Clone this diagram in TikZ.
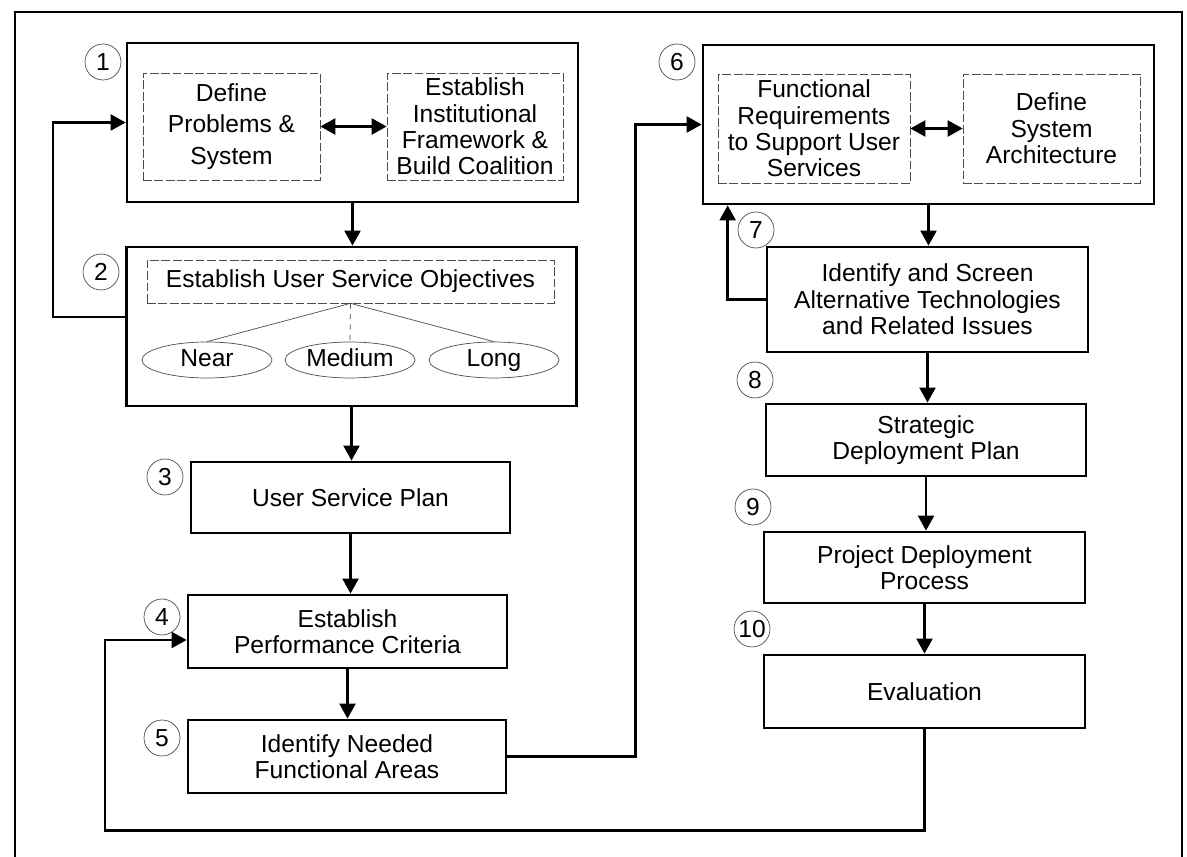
\documentclass[tikz,border=0pt]{standalone}
\usepackage{fontspec}
\setmainfont{Liberation Sans}
\usetikzlibrary{arrows.meta,shapes.geometric}
\tikzset{
  stage/.style={draw, line width=1.6pt, align=center, inner sep=2pt},
  part/.style={draw=black!70, line width=0.4pt, dash pattern=on 5pt off 1.5pt, align=center, inner sep=1pt},
  term/.style={ellipse, draw=black!70, line width=0.4pt, minimum width=2.6cm, minimum height=0.72cm, inner sep=0pt, text height=1.6ex, text depth=0.3ex},
  num/.style={circle, draw=black!70, line width=0.4pt, minimum size=0.72cm, inner sep=0pt, font=\fontsize{14}{14}\selectfont},
  flow/.style={line width=1.3pt, -{Triangle[length=3mm,width=3.2mm]}},
  both/.style={line width=1.3pt, {Triangle[length=3mm,width=3.2mm]}-{Triangle[length=3mm,width=3.2mm]}},
}
\begin{document}
\begin{tikzpicture}[x=0.02cm, y=-0.02cm, font=\fontsize{14}{15}\selectfont]
\useasboundingbox (0,0) rectangle (1187,857);
\draw[line width=0.9pt] (15,857) -- (15,12) -- (1182,12) -- (1182,857);
% left column
\node[stage, minimum width=9.02cm, minimum height=3.18cm] (box1) at (352.5,122.5) {};
\node[part, minimum width=3.54cm, minimum height=2.14cm] (b1l) at (231.5,126.5) {Define\\[3pt]Problems \&\\[3pt]System};
\node[part, minimum width=3.52cm, minimum height=2.14cm] (b1r) at (475,126.5) {Establish\\Institutional\\Framework \&\\Build Coalition};
\node[stage, minimum width=9.0cm, minimum height=3.18cm] (box2) at (351.5,326.5) {};
\node[part, minimum width=8.14cm, minimum height=0.86cm] (obj) at (350.5,281.5) {Establish User Service Objectives};
\node[term] (near) at (207,360) {Near};
\node[term] (medium) at (350,360) {Medium};
\node[term] (long) at (494,360) {Long};
\node[stage, minimum width=6.38cm, minimum height=1.42cm] (box3) at (350.5,497.5) {User Service Plan};
\node[stage, minimum width=6.38cm, minimum height=1.46cm] (box4) at (347.5,631.5) {Establish\\Performance Criteria};
\node[stage, minimum width=6.36cm, minimum height=1.46cm] (box5) at (347,756.5) {Identify Needed\\Functional Areas};
% right column
\node[stage, minimum width=9.02cm, minimum height=3.18cm] (box6) at (928.5,124.5) {};
\node[part, minimum width=3.84cm, minimum height=2.18cm] (b6l) at (814,128.5) {Functional\\Requirements\\to Support User\\Services};
\node[part, minimum width=3.54cm, minimum height=2.18cm] (b6r) at (1051.5,128.5) {Define\\System\\Architecture};
\node[stage, minimum width=6.42cm, minimum height=2.1cm] (box7) at (927.5,299.5) {Identify and Screen\\Alternative Technologies\\and Related Issues};
\node[stage, minimum width=6.4cm, minimum height=1.44cm] (box8) at (926,440) {Strategic\\Deployment Plan};
\node[stage, minimum width=6.42cm, minimum height=1.42cm] (box9) at (924.5,567.5) {Project Deployment\\Process};
\node[stage, minimum width=6.42cm, minimum height=1.46cm] (box10) at (924.5,691.5) {Evaluation};
% step numbers
\node[num] (n1) at (103,62) {1};
\node[num] (n2) at (101,272) {2};
\node[num] (n3) at (165,477) {3};
\node[num] (n4) at (162,617) {4};
\node[num] (n5) at (162,738) {5};
\node[num] (n6) at (677,62) {6};
\node[num] (n7) at (756,230) {7};
\node[num] (n8) at (755,380) {8};
\node[num] (n9) at (753,507) {9};
\node[num] (n10) at (752,629) {10};
% objectives tree
\draw[black!70, line width=0.4pt] (obj.south) -- (near.north) (obj.south) -- (long.north);
\draw[black!70, line width=0.4pt, dashed] (obj.south) -- (medium.north);
% flow
\path[flow]
  (box1.south) edge (box1.south |- box2.north)
  (box2.south) edge (box2.south |- box3.north)
  (box3.south) edge (box3.south |- box4.north)
  (box4.south) edge (box4.south |- box5.north)
  (box6.south) edge (box6.south |- box7.north)
  (box7.south) edge (box7.south |- box8.north)
  (box8.south) edge (box8.south |- box9.north)
  (box9.south) edge (box9.south |- box10.north);
\draw[both] (b1l) -- (b1r);
\draw[both] (b6l) -- (b6r);
% feedback loops
\draw[flow] ([yshift=0.19cm]box2.west) -- ++(-72,0) |- (box1.west);
\draw[flow] (box5.east) -- ++(128,0) |- (box6.west);
\draw[flow] (box7.west) -| ([xshift=0.52cm]box6.south west);
\draw[flow] (box10.south) -- ++(0,101) -- ++(-819.5,0) |- ([yshift=-0.17cm]box4.west);
\end{tikzpicture}
\end{document}
